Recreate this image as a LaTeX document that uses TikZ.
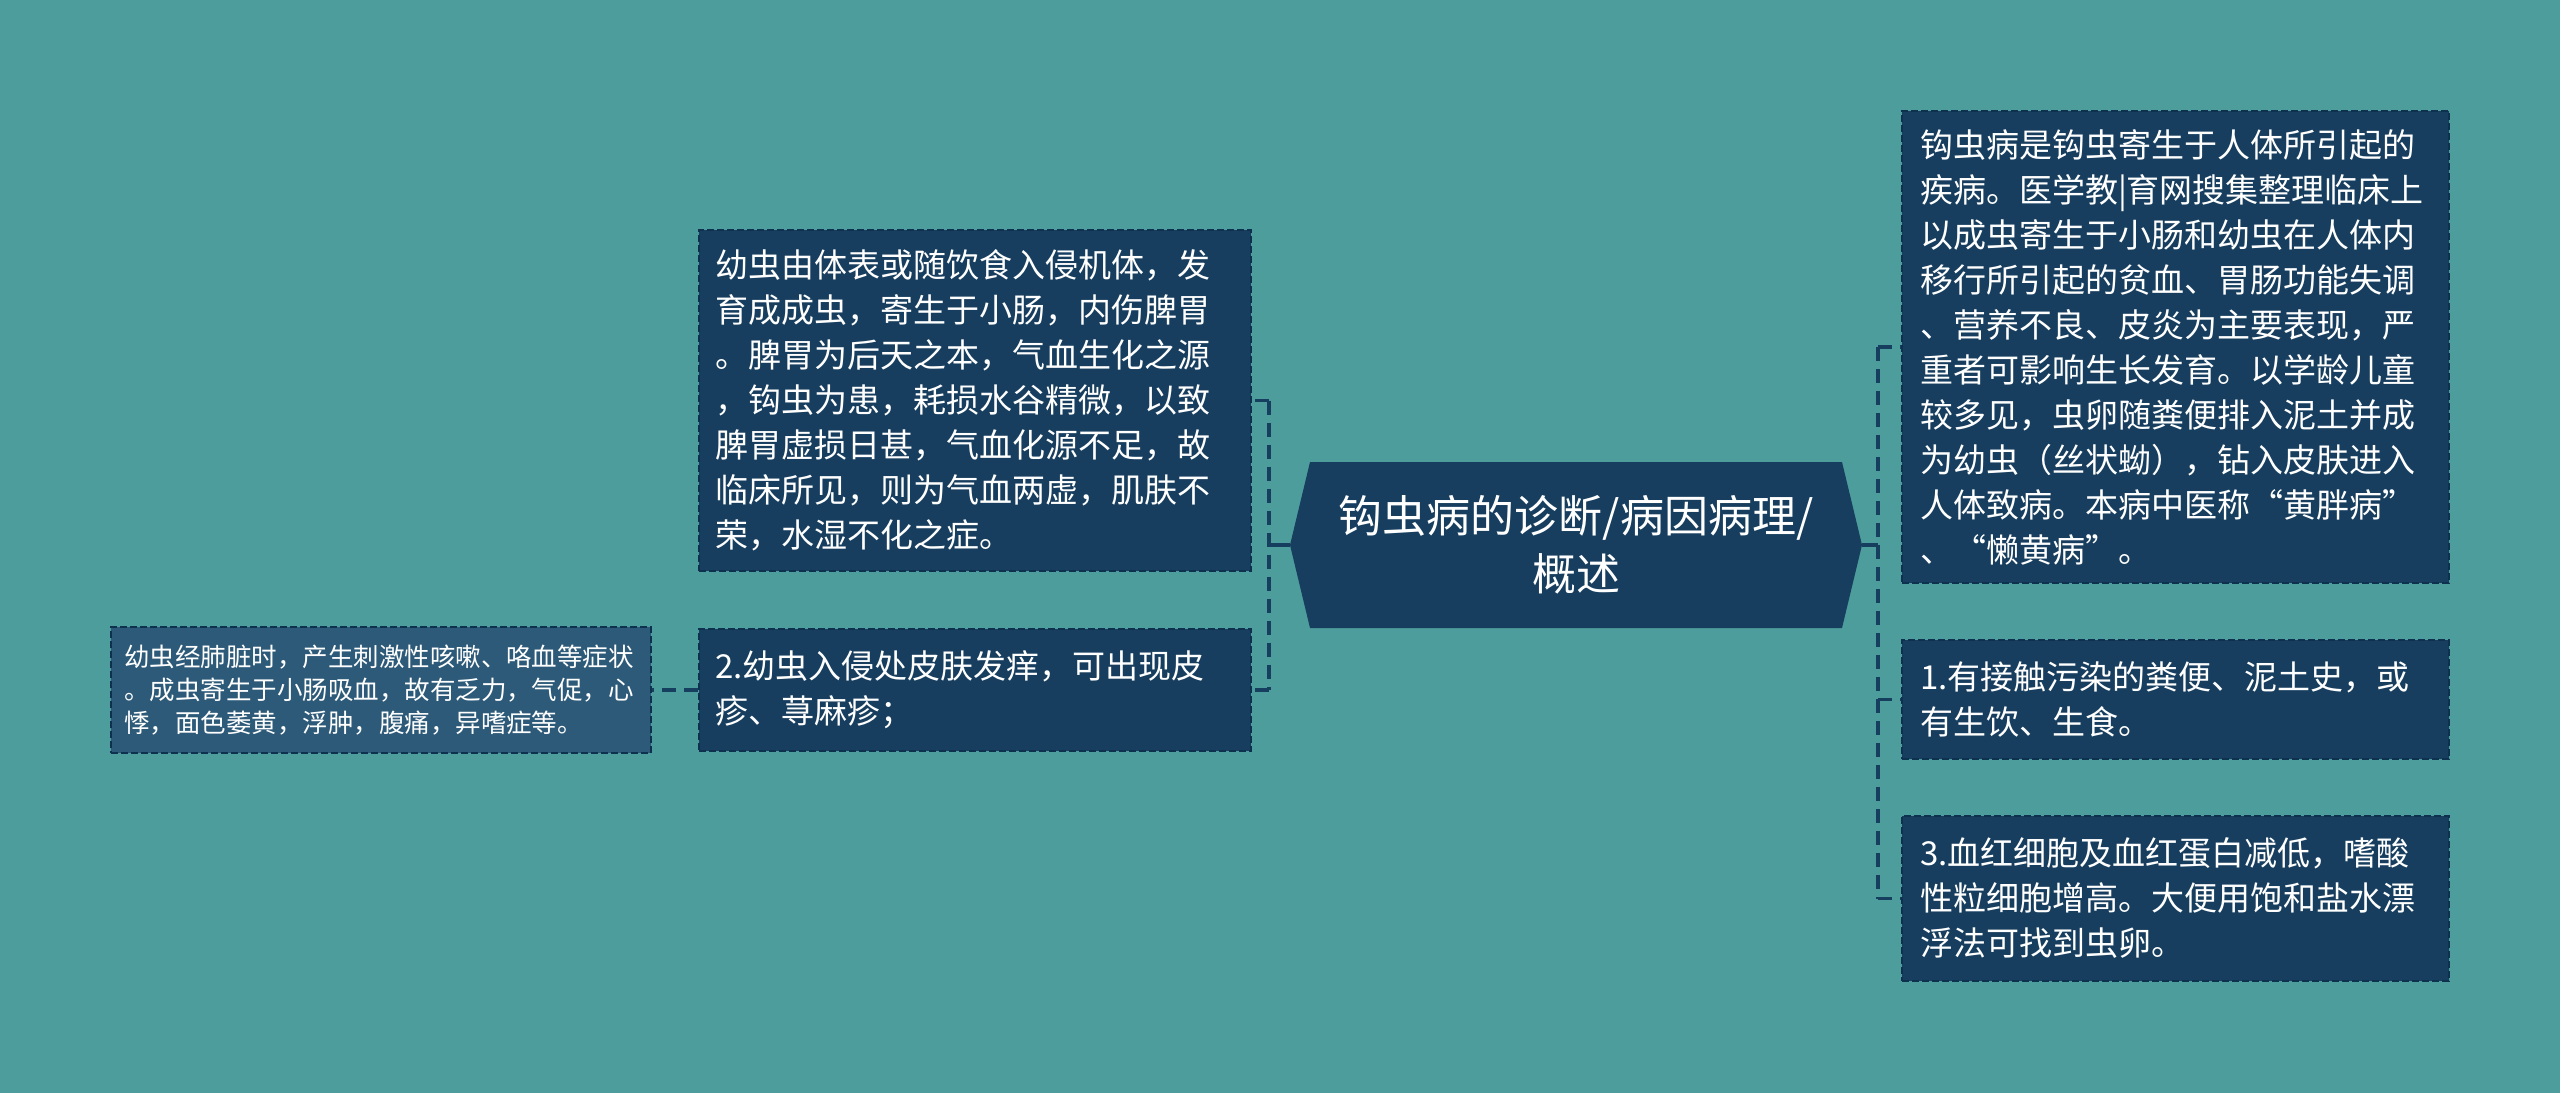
\documentclass[tikz,border=0pt]{standalone}
\usepackage{fontspec}
\setmainfont{Noto Sans CJK SC}
\definecolor{bg}{HTML}{4E9D9D}
\definecolor{boxfill}{HTML}{173E5E}
\definecolor{boxfilltwo}{HTML}{2D5A79}
\definecolor{bordercol}{HTML}{0F3150}
\definecolor{linecol}{HTML}{163E5E}
\begin{document}
\begin{tikzpicture}[x=1pt,y=-1pt,
  box/.style={draw=bordercol, dash pattern=on 7pt off 3pt, line width=1.6pt, fill=boxfill, text=white, align=left, inner xsep=16pt, inner ysep=0pt, font=\fontsize{33}{45}\selectfont},
  smallbox/.style={box, fill=boxfilltwo, inner xsep=13pt, font=\fontsize{25.5}{33}\selectfont},
  conn/.style={draw=linecol, line width=3.5pt, dash pattern=on 14pt off 8pt},
  solidconn/.style={draw=linecol, line width=3.5pt}]
\useasboundingbox[fill=bg] (0,0) rectangle (2560,1093);

% central hexagon
\fill[boxfill] (1290,545) -- (1310,462) -- (1842,462) -- (1862,545) -- (1842,628) -- (1310,628) -- cycle;
\node[text=white, align=center, font=\fontsize{44}{58}\selectfont] (c) at (1576,545) {钩虫病的诊断/病因病理/\\概述};
\coordinate (cl) at (1290,545);
\coordinate (cr) at (1862,545);

% left boxes
\node[box, minimum width=552pt, minimum height=341pt, text width=520pt] (lt) at (975,400.5) {幼虫由体表或随饮食入侵机体，发\\育成成虫，寄生于小肠，内伤脾胃\\。脾胃为后天之本，气血生化之源\\，钩虫为患，耗损水谷精微，以致\\脾胃虚损日甚，气血化源不足，故\\临床所见，则为气血两虚，肌肤不\\荣，水湿不化之症。};
\node[box, minimum width=552pt, minimum height=122pt, text width=520pt] (lb) at (975,690) {2.幼虫入侵处皮肤发痒，可出现皮\\疹、荨麻疹；};
\node[smallbox, minimum width=540pt, minimum height=126pt, text width=514pt] (fl) at (381,690) {幼虫经肺脏时，产生刺激性咳嗽、咯血等症状\\。成虫寄生于小肠吸血，故有乏力，气促，心\\悸，面色萎黄，浮肿，腹痛，异嗜症等。};

% right boxes
\node[box, minimum width=547pt, minimum height=472pt, text width=511pt, inner xsep=18pt] (rt) at (2175.5,347) {钩虫病是钩虫寄生于人体所引起的\\疾病。医学教|育网搜集整理临床上\\以成虫寄生于小肠和幼虫在人体内\\移行所引起的贫血、胃肠功能失调\\、营养不良、皮炎为主要表现，严\\重者可影响生长发育。以学龄儿童\\较多见，虫卵随粪便排入泥土并成\\为幼虫（丝状蚴），钻入皮肤进入\\人体致病。本病中医称“黄胖病”\\、“懒黄病”。};
\node[box, minimum width=547pt, minimum height=119pt, text width=511pt, inner xsep=18pt] (rm) at (2175.5,699.5) {1.有接触污染的粪便、泥土史，或\\有生饮、生食。};
\node[box, minimum width=547pt, minimum height=165pt, text width=511pt, inner xsep=18pt] (rb) at (2175.5,898.5) {3.血红细胞及血红蛋白减低，嗜酸\\性粒细胞增高。大便用饱和盐水漂\\浮法可找到虫卵。};

% junctions
\coordinate (jl) at (1269,545);
\coordinate (jlt) at (1269,400.5);
\coordinate (jlb) at (1269,690);
\coordinate (jr) at (1878,545);
\coordinate (jrt) at (1878,347);
\coordinate (jrm) at (1878,699.5);
\coordinate (jrb) at (1878,898.5);

% connectors
\draw[solidconn] (cl) -- (jl);
\draw[conn] (jlt) -- (jlb);
\draw[conn] (jlt) -- (lt.east);
\draw[conn] (jlb) -- (lb.east);
\draw[conn] (lb.west) -- (fl.east);
\draw[solidconn] (cr) -- (jr);
\draw[conn] (jrt) -- (jrb);
\draw[conn] (jrt) -- (rt.west);
\draw[conn] (jrm) -- (rm.west);
\draw[conn] (jrb) -- (rb.west);
\end{tikzpicture}
\end{document}
